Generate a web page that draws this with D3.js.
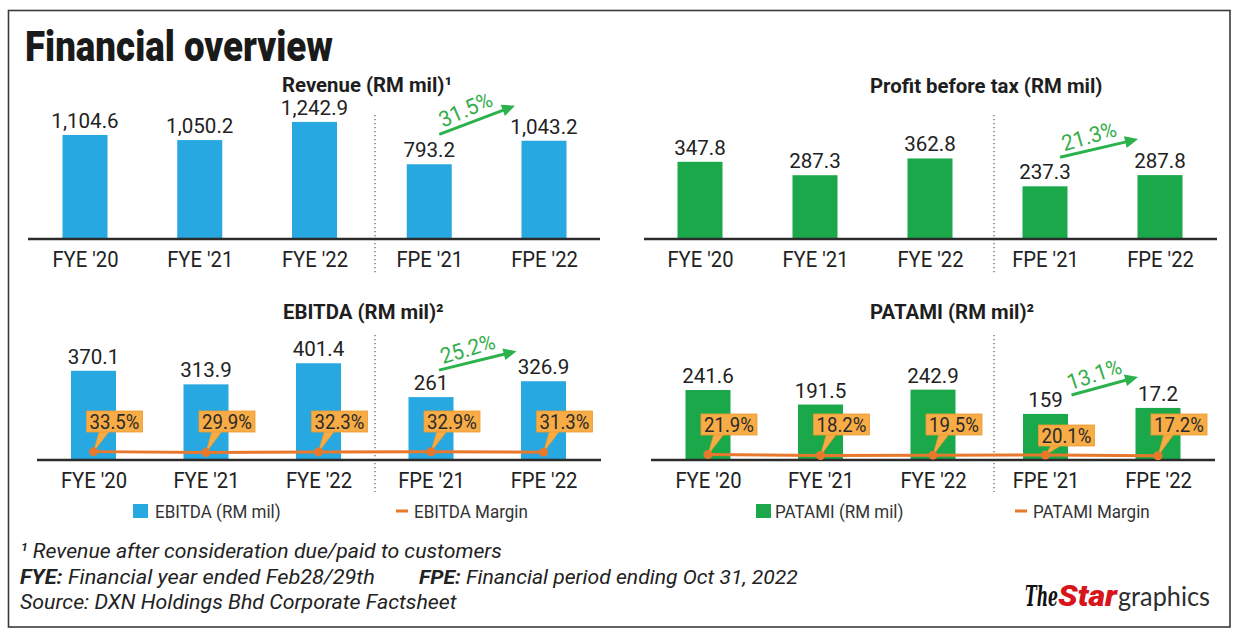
<!DOCTYPE html>
<html><head><meta charset="utf-8">
<script src="https://cdn.jsdelivr.net/npm/d3@7"></script>
<style>
html,body{margin:0;padding:0;background:#fff;}
svg{display:block;font-family:Roboto,"Noto Sans",sans-serif;}
</style></head><body>
<svg id="chart" width="1240" height="637"></svg>
<script>
// ---------- DATA ----------
const categories = ["FYE '20","FYE '21","FYE '22","FPE '21","FPE '22"];
const revenue = [1104.6,1050.2,1242.9,793.2,1043.2];
const pbt = [347.8,287.3,362.8,237.3,287.8];
const ebitda = [370.1,313.9,401.4,261,326.9];
const ebitdaMargin = [33.5,29.9,32.3,32.9,31.3];
const patami = [241.6,191.5,242.9,159,179.8];
const patamiLabels = ["241.6","191.5","242.9","159","17.2"];
const patamiMargin = [21.9,18.2,19.5,20.1,17.2];
const growthLabels = ["31.5%","21.3%","25.2%","13.1%"];
const footnotes = ["Revenue after consideration due/paid to customers",
  "Financial year ended Feb28/29th","Financial period ending Oct 31, 2022",
  "Source: DXN Holdings Bhd Corporate Factsheet"];

// ---------- STYLE ----------
const BLUE="#27A8E0", GREEN="#1BA84B", ORANGE="#E8782C", BOXFILL="#F8AC45",
      BOXSTROKE="#EE9A30", ARROW="#2BB24C", GTEXT="#34AD4B", INK="#222";
const BW = 45;
const fmt = n => Number.isInteger(n) ? d3.format(",")(n) : d3.format(",.1f")(n);

const svg = d3.select("#chart");
svg.append("rect").attr("width",1240).attr("height",637).attr("fill","#fff");
svg.append("rect").attr("x",8.5).attr("y",10.5).attr("width",1221.5).attr("height",616.5)
   .attr("fill","none").attr("stroke","#3a3a3a").attr("stroke-width",1.6);

function ctext(parent, x, y, txt, o={}){
  const t = parent.append("text")
    .attr("transform", `translate(${x},${y})` + (o.rot?` rotate(${o.rot})`:"") + ` scale(${o.sx||1},1)`)
    .attr("font-size", o.size||20).attr("font-weight", o.weight||400)
    .attr("text-anchor", o.anchor||"start").attr("fill", o.fill||INK)
    .attr("font-style", o.style||"normal");
  if (o.family) t.attr("font-family", o.family);
  if (o.db) t.attr("dominant-baseline", o.db);
  t.text(txt);
  return t;
}
function fitText(t, x, y, w){
  const n = t.node().getComputedTextLength();
  t.attr("transform", `translate(${x},${y}) scale(${w/n},1)`);
}

// Title
fitText(ctext(svg, 25, 61, "Financial overview", {size:42, weight:900, fill:"#1a1a1a"}), 25, 61, 308);

const panels = [
  {title:"Revenue (RM mil)¹", vals:revenue, labels:revenue.map(fmt), color:BLUE,
   titleX:282, titleY:92, axisX:[28,600], base:239, xr:[85,544], ymax:1500, yh:141.3,
   sep:375, sepY:[115,273], growth:growthLabels[0], arrow:[10,-30,-29,-35]},
  {title:"Profit before tax (RM mil)", vals:pbt, labels:pbt.map(fmt), color:GREEN,
   titleX:870, titleY:93, axisX:[644,1217], base:239, xr:[700,1160], ymax:500, yh:111,
   sep:994, sepY:[115,273], growth:growthLabels[1], arrow:[15,-29,-22,-36]},
  {title:"EBITDA (RM mil)²", vals:ebitda, labels:ebitda.map(fmt), color:BLUE,
   titleX:283, titleY:319, axisX:[37,601], base:460, xr:[93.5,543.5], ymax:500, yh:120.5,
   sep:375, sepY:[335,492], growth:growthLabels[2], arrow:[8,-27,-27,-30],
   margin:ebitdaMargin, boxTop:[411,411,411,411,411],
   legend:{sq:133, t1:155, dash:[396,408], t2:414, y:518, n1:"EBITDA (RM mil)", n2:"EBITDA Margin"}},
  {title:"PATAMI (RM mil)²", vals:patami, labels:patamiLabels, color:GREEN,
   titleX:870, titleY:319, axisX:[651,1215], base:460, xr:[708,1158], ymax:300, yh:86.9,
   sep:994, sepY:[335,492], growth:growthLabels[3], arrow:[26,-19,-20,-31],
   margin:patamiMargin, boxTop:[414,414,414,425,414],
   legend:{sq:756, t1:775, dash:[1015,1027], t2:1033, y:518, n1:"PATAMI (RM mil)", n2:"PATAMI Margin"}}
];

panels.forEach(p => {
  const g = svg.append("g");
  const x = d3.scalePoint().domain(categories).range(p.xr);
  const y = d3.scaleLinear().domain([0,p.ymax]).range([p.base, p.base - p.yh]);

  ctext(g, p.titleX, p.titleY, p.title, {size:21, weight:700, fill:"#1e1e1e", sx:0.97});

  g.append("line").attr("x1",p.sep).attr("x2",p.sep).attr("y1",p.sepY[0]).attr("y2",p.sepY[1])
    .attr("stroke","#666").attr("stroke-width",1.3).attr("stroke-dasharray","1.3,2.7");

  g.selectAll("rect.bar").data(p.vals).join("rect").attr("class","bar")
    .attr("x",(d,i)=>x(categories[i])-BW/2).attr("y",d=>y(d))
    .attr("width",BW).attr("height",d=>p.base-y(d)).attr("fill",p.color);

  g.append("line").attr("x1",p.axisX[0]).attr("x2",p.axisX[1]).attr("y1",p.base).attr("y2",p.base)
    .attr("stroke","#2b2b2b").attr("stroke-width",2.4);
  const ax = g.append("g").attr("transform",`translate(0,${p.base})`)
    .call(d3.axisBottom(x).tickSize(0).tickPadding(0));
  ax.select(".domain").remove();
  ax.selectAll("text").attr("y",28).attr("dy",0).attr("font-size",22)
    .attr("font-family","Roboto").attr("fill",INK).attr("transform","scale(0.92,1)");

  p.vals.forEach((v,i)=>{
    ctext(g, x(categories[i]), y(v)-7, p.labels[i], {size:21, anchor:"middle", sx:0.98});
  });

  // growth arrow
  const a = p.arrow;
  const s = [x(categories[3])+a[0], y(p.vals[3])+a[1]];
  const e = [x(categories[4])+a[2], y(p.vals[4])+a[3]];
  const dx=e[0]-s[0], dy=e[1]-s[1], L=Math.hypot(dx,dy), ux=dx/L, uy=dy/L;
  const nx=uy, ny=-ux;
  const hb=[e[0]-13*ux, e[1]-13*uy];
  g.append("line").attr("x1",s[0]).attr("y1",s[1]).attr("x2",hb[0]+2*ux).attr("y2",hb[1]+2*uy)
    .attr("stroke",ARROW).attr("stroke-width",3);
  g.append("polygon").attr("points",[[e[0],e[1]],[hb[0]+6*nx,hb[1]+6*ny],[hb[0]-6*nx,hb[1]-6*ny]].map(q=>q.join(",")).join(" "))
    .attr("fill",ARROW);
  const ang = Math.atan2(dy,dx)*180/Math.PI - 3;
  const mx=(s[0]+e[0])/2 - 7*ux + 14*nx, my=(s[1]+e[1])/2 - 7*uy + 14*ny;
  ctext(g, mx, my, p.growth, {size:22, anchor:"middle", fill:GTEXT, rot:ang, sx:0.95, db:"central"});

  if (p.margin){
    const ym = d3.scaleLinear().domain([0,100]).range([p.base, p.base-25]);
    const line = d3.line().x((d,i)=>x(categories[i])).y(d=>ym(d));
    p.margin.forEach((m,i)=>{
      const cx=x(categories[i]), cy=ym(m), bt=p.boxTop[i], bh=21, bl=cx-7, bw=56;
      g.append("polygon").attr("points",`${cx+6},${bt+bh-1} ${cx+16},${bt+bh-1} ${cx},${cy}`)
        .attr("fill",BOXFILL).attr("stroke",BOXSTROKE).attr("stroke-width",0.8);
      g.append("rect").attr("x",bl).attr("y",bt).attr("width",bw).attr("height",bh)
        .attr("fill",BOXFILL).attr("stroke",BOXSTROKE).attr("stroke-width",0.8);
      ctext(g, bl+bw/2, bt+bh/2+1, d3.format(".1f")(m)+"%", {size:20, anchor:"middle", sx:0.93, db:"central", fill:"#2a2a2a"});
    });
    g.append("path").datum(p.margin).attr("d",line).attr("fill","none")
      .attr("stroke",ORANGE).attr("stroke-width",3);
    g.selectAll("circle.dot").data(p.margin).join("circle").attr("class","dot")
      .attr("cx",(d,i)=>x(categories[i])).attr("cy",d=>ym(d)).attr("r",4.5).attr("fill",ORANGE);

    const lg = p.legend;
    g.append("rect").attr("x",lg.sq).attr("y",lg.y-14).attr("width",15).attr("height",14).attr("fill",p.color);
    ctext(g, lg.t1, lg.y, lg.n1, {size:18.5, sx:0.92, fill:"#333"});
    g.append("line").attr("x1",lg.dash[0]).attr("x2",lg.dash[1]).attr("y1",lg.y-7).attr("y2",lg.y-7)
      .attr("stroke",ORANGE).attr("stroke-width",3);
    ctext(g, lg.t2, lg.y, lg.n2, {size:18.5, sx:0.92, fill:"#333"});
  }
});

// footnotes
const fn = svg.append("g");
function footLine(x, y, w, parts){
  const t = fn.append("text").attr("font-size",21).attr("font-style","italic").attr("fill",INK);
  parts.forEach(pt => t.append("tspan").attr("font-weight",pt[1]||400).text(pt[0]));
  t.attr("transform",`translate(${x},${y})`);
  fitText(t, x, y, w);
}
footLine(20, 558, 482, [["¹ ",400],[footnotes[0],400]]);
footLine(20, 584, 355, [["FYE:",700],[" "+footnotes[1],400]]);
footLine(419, 584, 379, [["FPE:",700],[" "+footnotes[2],400]]);
footLine(20, 609, 437, [[footnotes[3],400]]);

// logo
const lg = svg.append("g");
fitText(ctext(lg, 1025, 606, "The", {size:27, weight:700, style:"italic", family:"'DejaVu Serif',serif", fill:"#111"}), 1025, 606, 33);
fitText(ctext(lg, 1058, 606, "Star", {size:30, weight:900, style:"italic", fill:"#D7151B"}), 1058, 606, 59);
fitText(ctext(lg, 1118, 606, "graphics", {size:27, family:"Lato", fill:"#2e2e2e"}), 1118, 606, 92);
</script>
</body></html>
